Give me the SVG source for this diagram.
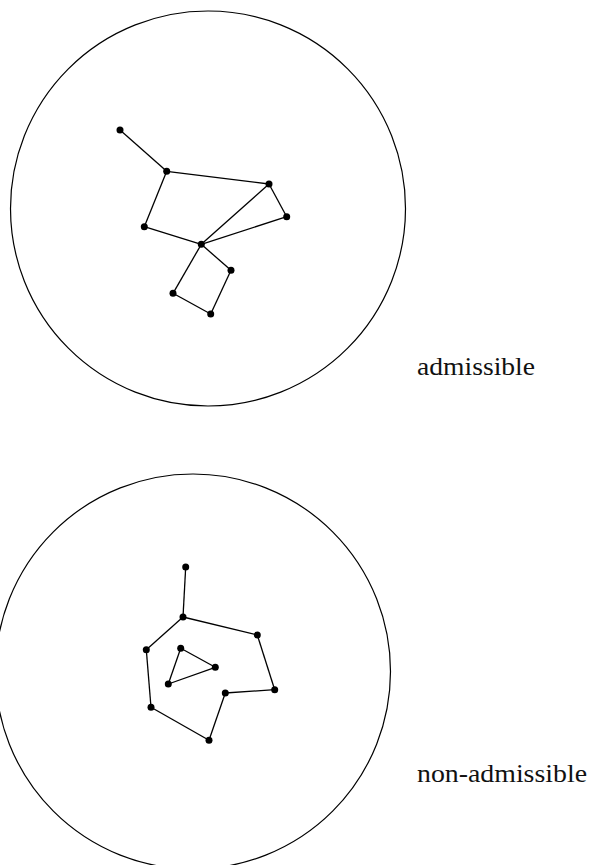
<svg xmlns="http://www.w3.org/2000/svg" width="592" height="865" viewBox="0 0 592 865">
<style>
.frame{fill:none;stroke:#000;stroke-width:1.2}
.edge{stroke:#000;stroke-width:1.3;fill:none}
.dot{fill:#000}
.lbl{font-family:"Liberation Serif","DejaVu Serif",serif;font-size:26px;fill:#111}
</style>
<rect width="592" height="865" fill="#fff"/>
<circle class="frame" cx="208" cy="208.5" r="197.5"/>
<circle class="frame" cx="193" cy="671.5" r="197.5"/>
<g id="connectors">
<line class="edge" x1="120" y1="130" x2="166.7" y2="171.3"/>
<line class="edge" x1="166.7" y1="171.3" x2="269" y2="184"/>
<line class="edge" x1="166.7" y1="171.3" x2="144.3" y2="226.7"/>
<line class="edge" x1="144.3" y1="226.7" x2="201.3" y2="244.3"/>
<line class="edge" x1="269" y1="184" x2="201.3" y2="244.3"/>
<line class="edge" x1="269" y1="184" x2="286.7" y2="216.7"/>
<line class="edge" x1="286.7" y1="216.7" x2="201.3" y2="244.3"/>
<line class="edge" x1="201.3" y1="244.3" x2="231" y2="270.3"/>
<line class="edge" x1="201.3" y1="244.3" x2="173" y2="293.3"/>
<line class="edge" x1="173" y1="293.3" x2="210.7" y2="314"/>
<line class="edge" x1="210.7" y1="314" x2="231" y2="270.3"/>
<line class="edge" x1="185.7" y1="567" x2="183" y2="617"/>
<line class="edge" x1="183" y1="617" x2="257.3" y2="635"/>
<line class="edge" x1="183" y1="617" x2="146.3" y2="649.7"/>
<line class="edge" x1="146.3" y1="649.7" x2="151" y2="707.3"/>
<line class="edge" x1="151" y1="707.3" x2="209" y2="740.3"/>
<line class="edge" x1="209" y1="740.3" x2="225.3" y2="693"/>
<line class="edge" x1="225.3" y1="693" x2="274.7" y2="689.7"/>
<line class="edge" x1="274.7" y1="689.7" x2="257.3" y2="635"/>
<line class="edge" x1="180.7" y1="648.3" x2="215.3" y2="667.3"/>
<line class="edge" x1="215.3" y1="667.3" x2="168.3" y2="684"/>
<line class="edge" x1="168.3" y1="684" x2="180.7" y2="648.3"/>
</g>
<g id="n1"><circle class="dot" cx="120" cy="130" r="3.5"/></g>
<g id="n2"><circle class="dot" cx="166.7" cy="171.3" r="3.5"/></g>
<g id="n3"><circle class="dot" cx="269" cy="184" r="3.5"/></g>
<g id="n4"><circle class="dot" cx="286.7" cy="216.7" r="3.5"/></g>
<g id="n5"><circle class="dot" cx="144.3" cy="226.7" r="3.5"/></g>
<g id="n6"><circle class="dot" cx="201.3" cy="244.3" r="3.5"/></g>
<g id="n7"><circle class="dot" cx="231" cy="270.3" r="3.5"/></g>
<g id="n8"><circle class="dot" cx="173" cy="293.3" r="3.5"/></g>
<g id="n9"><circle class="dot" cx="210.7" cy="314" r="3.5"/></g>
<g id="m1"><circle class="dot" cx="185.7" cy="567" r="3.5"/></g>
<g id="m2"><circle class="dot" cx="183" cy="617" r="3.5"/></g>
<g id="m3"><circle class="dot" cx="257.3" cy="635" r="3.5"/></g>
<g id="m4"><circle class="dot" cx="146.3" cy="649.7" r="3.5"/></g>
<g id="m5"><circle class="dot" cx="180.7" cy="648.3" r="3.5"/></g>
<g id="m6"><circle class="dot" cx="215.3" cy="667.3" r="3.5"/></g>
<g id="m7"><circle class="dot" cx="168.3" cy="684" r="3.5"/></g>
<g id="m8"><circle class="dot" cx="274.7" cy="689.7" r="3.5"/></g>
<g id="m9"><circle class="dot" cx="225.3" cy="693" r="3.5"/></g>
<g id="m10"><circle class="dot" cx="151" cy="707.3" r="3.5"/></g>
<g id="m11"><circle class="dot" cx="209" cy="740.3" r="3.5"/></g>
<text class="lbl" x="417" y="374.5" textLength="118" lengthAdjust="spacingAndGlyphs">admissible</text>
<text class="lbl" x="417" y="781.5" textLength="170" lengthAdjust="spacingAndGlyphs">non-admissible</text>
</svg>
